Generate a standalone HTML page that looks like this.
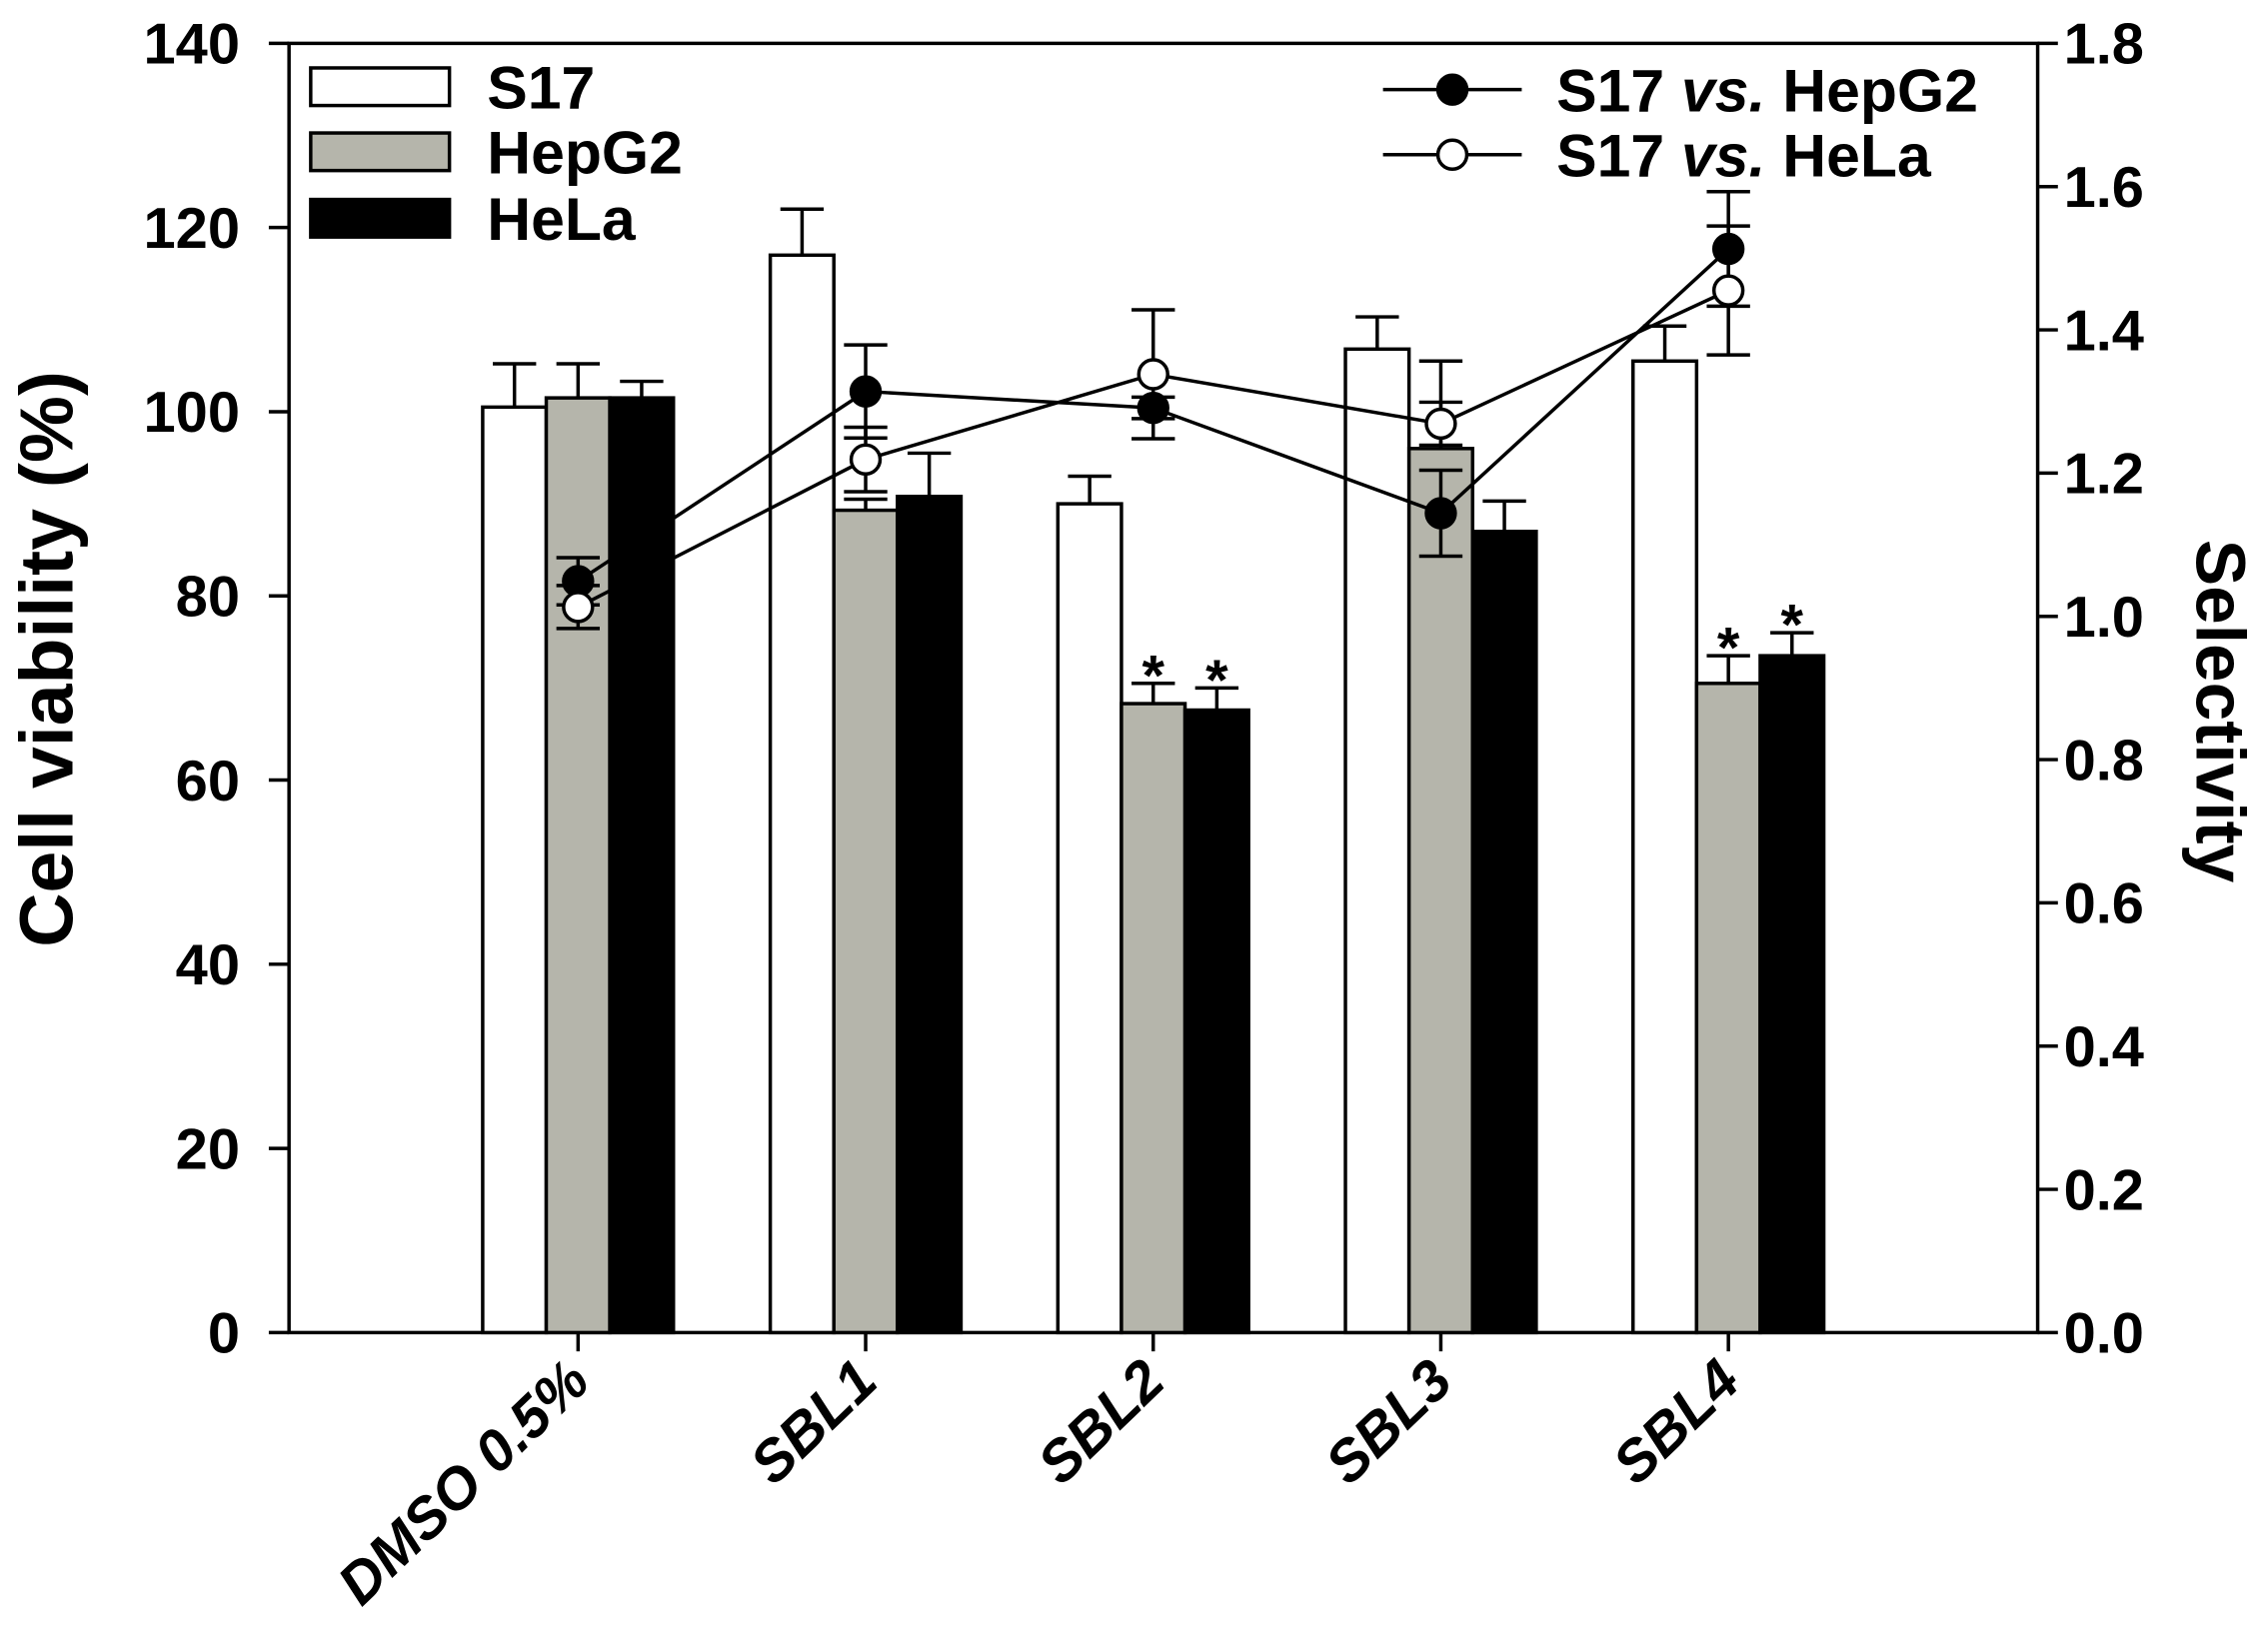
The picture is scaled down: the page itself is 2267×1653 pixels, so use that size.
<!DOCTYPE html>
<html><head><meta charset="utf-8"><style>
html,body{margin:0;padding:0;background:#fff;}
svg{display:block;}
text{font-family:"Liberation Sans",Arial,sans-serif;font-weight:bold;fill:#000;}
</style></head><body>
<svg id="chart" width="2267" height="1653" viewBox="0 0 1568 1143" preserveAspectRatio="none" xmlns="http://www.w3.org/2000/svg">
<g id="g"></g>
</svg>
<script>
const categories=["DMSO 0.5%","SBL1","SBL2","SBL3","SBL4"];
const s17=[100.5,117,90,106.8,105.5];
const s17Err=[4.7,5,3,3.5,3.8];
const hepg2=[101.5,89.3,68.3,96,70.5];
const hepg2Err=[3.7,1.2,2.2,9.5,3];
const hela=[101.5,90.8,67.6,87,73.5];
const helaErr=[1.8,4.7,2.4,3.3,2.5];
const selHepG2=[1.049,1.314,1.291,1.144,1.513];
const selHepG2Err=[0.033,0.065,0.015,0.06,0.08];
const selHeLa=[1.013,1.219,1.338,1.269,1.455];
const selHeLaErr=[0.03,0.045,0.09,0.03,0.09];
const leftTicks=[0,20,40,60,80,100,120,140];
const rightTicks=["0.0","0.2","0.4","0.6","0.8","1.0","1.2","1.4","1.6","1.8"];
const starsHepG2=[false,false,true,false,true];
const starsHeLa=[false,false,true,false,true];

const NS="http://www.w3.org/2000/svg";
const g=document.getElementById('g');
const L=200,R=1410,T=30,B=922;
const yL=v=>B-(v/140)*(B-T);
const yR=v=>B-(v/1.8)*(B-T);
const xC=i=>400+i*199;
const SW=2.4;
function mk(tag,attrs,parent){const e=document.createElementNS(NS,tag);for(const k in attrs)e.setAttribute(k,attrs[k]);(parent||g).appendChild(e);return e;}

let ax=mk('rect',{x:L,y:T,width:R-L,height:B-T,fill:'none',stroke:'#000','stroke-width':SW});



leftTicks.forEach(v=>{
  const y=yL(v);
  const t=mk('line',{x1:L-14,x2:L,y1:y,y2:y,stroke:'#000','stroke-width':SW});
  
  
  const tx=mk('text',{x:166,y:y+14,'text-anchor':'end','font-size':40});
  tx.textContent=v;
  
  
});
rightTicks.forEach(v=>{
  const y=yR(parseFloat(v));
  const t=mk('line',{x1:R,x2:R+14,y1:y,y2:y,stroke:'#000','stroke-width':SW});
  
  
  const tx=mk('text',{x:1428,y:y+14,'text-anchor':'start','font-size':40});
  tx.textContent=v;
  
  
});

const BW=44;
function bar(i,off,v,err,fill,name){
  const x=xC(i)+off;
  const b=mk('rect',{x:x,y:yL(v),width:BW,height:B-yL(v),fill:fill,stroke:'#000','stroke-width':SW});
  
  
  const cx=x+BW/2,yt=yL(v+err);
  const e=mk('path',{d:`M${cx} ${yL(v)}V${yt}M${cx-15} ${yt}H${cx+15}`,stroke:'#000','stroke-width':SW,fill:'none'});
  
  
}
categories.forEach((c,i)=>{
  bar(i,-66,s17[i],s17Err[i],'#fff','bar-s17');
  bar(i,-22,hepg2[i],hepg2Err[i],'#b5b5ab','bar-hepg2');
  bar(i,22,hela[i],helaErr[i],'#000','bar-hela');
  const tk=mk('line',{x1:xC(i),x2:xC(i),y1:B,y2:B+13,stroke:'#000','stroke-width':SW});
  
  
  const lx=xC(i)+10,ly=B+36;
  const lb=mk('text',{x:lx,y:ly,'text-anchor':'end','font-size':40,'font-style':'italic',transform:`rotate(-44 ${lx} ${ly})`});
  lb.textContent=c;
  
  
  if(starsHepG2[i]){const s=mk('text',{x:xC(i),y:yL(hepg2[i]+hepg2Err[i])+8,'text-anchor':'middle','font-size':40,'font-weight':'normal'});s.textContent='*';
    
    }
  if(starsHeLa[i]){const s=mk('text',{x:xC(i)+44,y:yL(hela[i]+helaErr[i])+8,'text-anchor':'middle','font-size':40,'font-weight':'normal'});s.textContent='*';
    
    }
});

function series(vals,errs,fill,name){
  let d='';vals.forEach((v,i)=>{d+=(i?'L':'M')+xC(i)+' '+yR(v);});
  const p=mk('path',{d:d,stroke:'#000','stroke-width':SW,fill:'none'});
  
  
  vals.forEach((v,i)=>{
    const x=xC(i),y1=yR(v+errs[i]),y2=yR(v-errs[i]);
    const e=mk('path',{d:`M${x} ${y1}V${y2}M${x-15} ${y1}H${x+15}M${x-15} ${y2}H${x+15}`,stroke:'#000','stroke-width':SW,fill:'none'});
    
    
  });
  vals.forEach((v,i)=>{
    const c=mk('circle',{cx:xC(i),cy:yR(v),r:10,fill:fill,stroke:'#000','stroke-width':SW});
    
    
  });
}
series(selHepG2,selHepG2Err,'#000','sel-hepg2');
series(selHeLa,selHeLaErr,'#fff','sel-hela');

const legB=[['S17','#fff',47],['HepG2','#b5b5ab',92],['HeLa','#000',138]];
legB.forEach(l=>{
  const r=mk('rect',{x:215,y:l[2],width:96,height:26,fill:l[1],stroke:'#000','stroke-width':SW});
  
  
  const t=mk('text',{x:337,y:l[2]+28,'font-size':42});t.textContent=l[0];
  
  
});
[['#000',62,'HepG2'],['#fff',107,'HeLa']].forEach(l=>{
  const ln=mk('line',{x1:957,x2:1053,y1:l[1],y2:l[1],stroke:'#000','stroke-width':SW});
  
  
  const c=mk('circle',{cx:1005,cy:l[1],r:10,fill:l[0],stroke:'#000','stroke-width':SW});
  
  
  const t=mk('text',{x:1077,y:l[1]+15,'font-size':42});
  t.innerHTML='S17 <tspan font-style="italic">vs.</tspan> '+l[2];
  
  
});

const yt=mk('text',{x:50,y:456,'text-anchor':'middle','font-size':52,transform:'rotate(-90 50 456)'});
yt.textContent='Cell viability (%)';


const rt=mk('text',{x:1520,y:492,'text-anchor':'middle','font-size':48,transform:'rotate(90 1520 492)'});
rt.textContent='Selectivity';


</script>
</body></html>
